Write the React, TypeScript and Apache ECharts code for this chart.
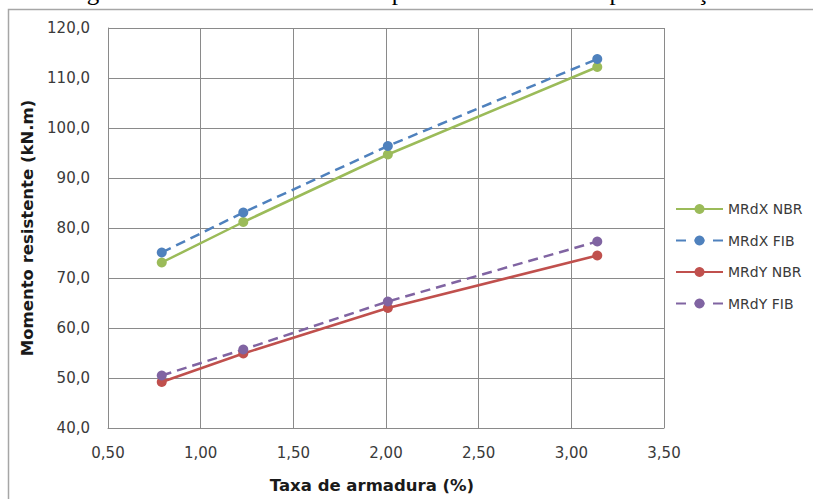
import React, { useEffect, useRef } from "react";
import * as echarts from "echarts";

// Reinforcement ratio (%) for each section layout
const taxaArmadura = [0.79, 1.23, 2.01, 3.14];

// Resisting moments (kN.m)
const mrdxNbr = [73.1, 81.2, 94.7, 112.2];
const mrdxFib = [75.1, 83.1, 96.4, 113.8];
const mrdyNbr = [49.2, 54.9, 64.0, 74.5];
const mrdyFib = [50.5, 55.7, 65.3, 77.3];

const seriesNames = ["MRdX NBR", "MRdX FIB", "MRdY NBR", "MRdY FIB"];
const seriesValues = [mrdxNbr, mrdxFib, mrdyNbr, mrdyFib];
const seriesColors = ["#9BBB59", "#4F81BD", "#C0504D", "#8064A2"];
const seriesDashed = [false, true, false, true];

const caption = "Figura 33 – Momento resistente por taxa de armadura para a seção C";

const FONT = "'DejaVu Sans', sans-serif";
const GRID_COLOR = "#8a8a8a";
const LABEL_COLOR = "#3a3a3a";

export default function App() {
  const ref = useRef<HTMLDivElement>(null);

  useEffect(() => {
    if (!ref.current) return;
    const chart = echarts.init(ref.current, undefined, { renderer: "svg" });

    const series = seriesNames.map((name, i) => ({
      name,
      type: "line",
      data: taxaArmadura.map((x, j) => [x, seriesValues[i][j]]),
      symbol: "circle",
      symbolSize: 10,
      color: seriesColors[i],
      itemStyle: { color: seriesColors[i] },
      lineStyle: {
        color: seriesColors[i],
        width: 2.5,
        type: seriesDashed[i] ? [10, 6] : "solid",
      },
      emphasis: { disabled: true },
    }));

    chart.setOption({
      animation: false,
      backgroundColor: "#ffffff",
      graphic: [
        {
          type: "rect",
          shape: { x: 8.5, y: 9.5, width: 1000, height: 800 },
          style: { fill: "none", stroke: "#a6a6a6", lineWidth: 1.5 },
          silent: true,
          z: -10,
        },
        {
          type: "text",
          x: 66,
          y: -8.5,
          style: {
            text: caption,
            font: "25px 'Liberation Serif', serif",
            fill: "#000000",
            textAlign: "left",
            textVerticalAlign: "middle",
          },
          silent: true,
        },
      ],
      grid: { left: 108, top: 28, right: 149, bottom: 64, containLabel: false },
      legend: {
        left: 670,
        top: 197,
        orient: "vertical",
        itemWidth: 47,
        itemHeight: 12.5,
        itemGap: 17.5,
        textStyle: { fontFamily: FONT, fontSize: 14, color: LABEL_COLOR },
        data: seriesNames.map((name, i) => ({
          name,
          lineStyle: seriesDashed[i] ? { type: [10, 8.5] } : undefined,
        })),
      },
      xAxis: {
        type: "value",
        min: 0.5,
        max: 3.5,
        interval: 0.5,
        name: "Taxa de armadura (%)",
        nameLocation: "middle",
        nameGap: 49,
        nameTextStyle: {
          fontFamily: FONT,
          fontSize: 16.5,
          fontWeight: "bold",
          color: "#1a1a1a",
          padding: [0, 28, 0, 0],
        },
        axisLine: { show: true, lineStyle: { color: GRID_COLOR, width: 1 } },
        axisTick: { show: false },
        axisLabel: {
          fontFamily: FONT,
          fontSize: 15,
          color: LABEL_COLOR,
          margin: 17,
          formatter: (v: number) => v.toFixed(2).replace(".", ","),
        },
        splitLine: { show: true, lineStyle: { color: GRID_COLOR, width: 1 } },
      },
      yAxis: {
        type: "value",
        min: 40,
        max: 120,
        interval: 10,
        name: "Momento resistente (kN.m)",
        nameLocation: "middle",
        nameGap: 72,
        nameTextStyle: {
          fontFamily: FONT,
          fontSize: 16.5,
          fontWeight: "bold",
          color: "#1a1a1a",
        },
        axisLine: { show: true, lineStyle: { color: GRID_COLOR, width: 1 } },
        axisTick: { show: false },
        axisLabel: {
          fontFamily: FONT,
          fontSize: 15,
          color: LABEL_COLOR,
          margin: 18,
          formatter: (v: number) => v.toFixed(1).replace(".", ","),
        },
        splitLine: { show: true, lineStyle: { color: GRID_COLOR, width: 1 } },
      },
      series,
    });

    return () => chart.dispose();
  }, []);

  return (
    <div
      ref={ref}
      style={{ position: "fixed", left: 0, top: 0, width: 813, height: 499 }}
    />
  );
}
